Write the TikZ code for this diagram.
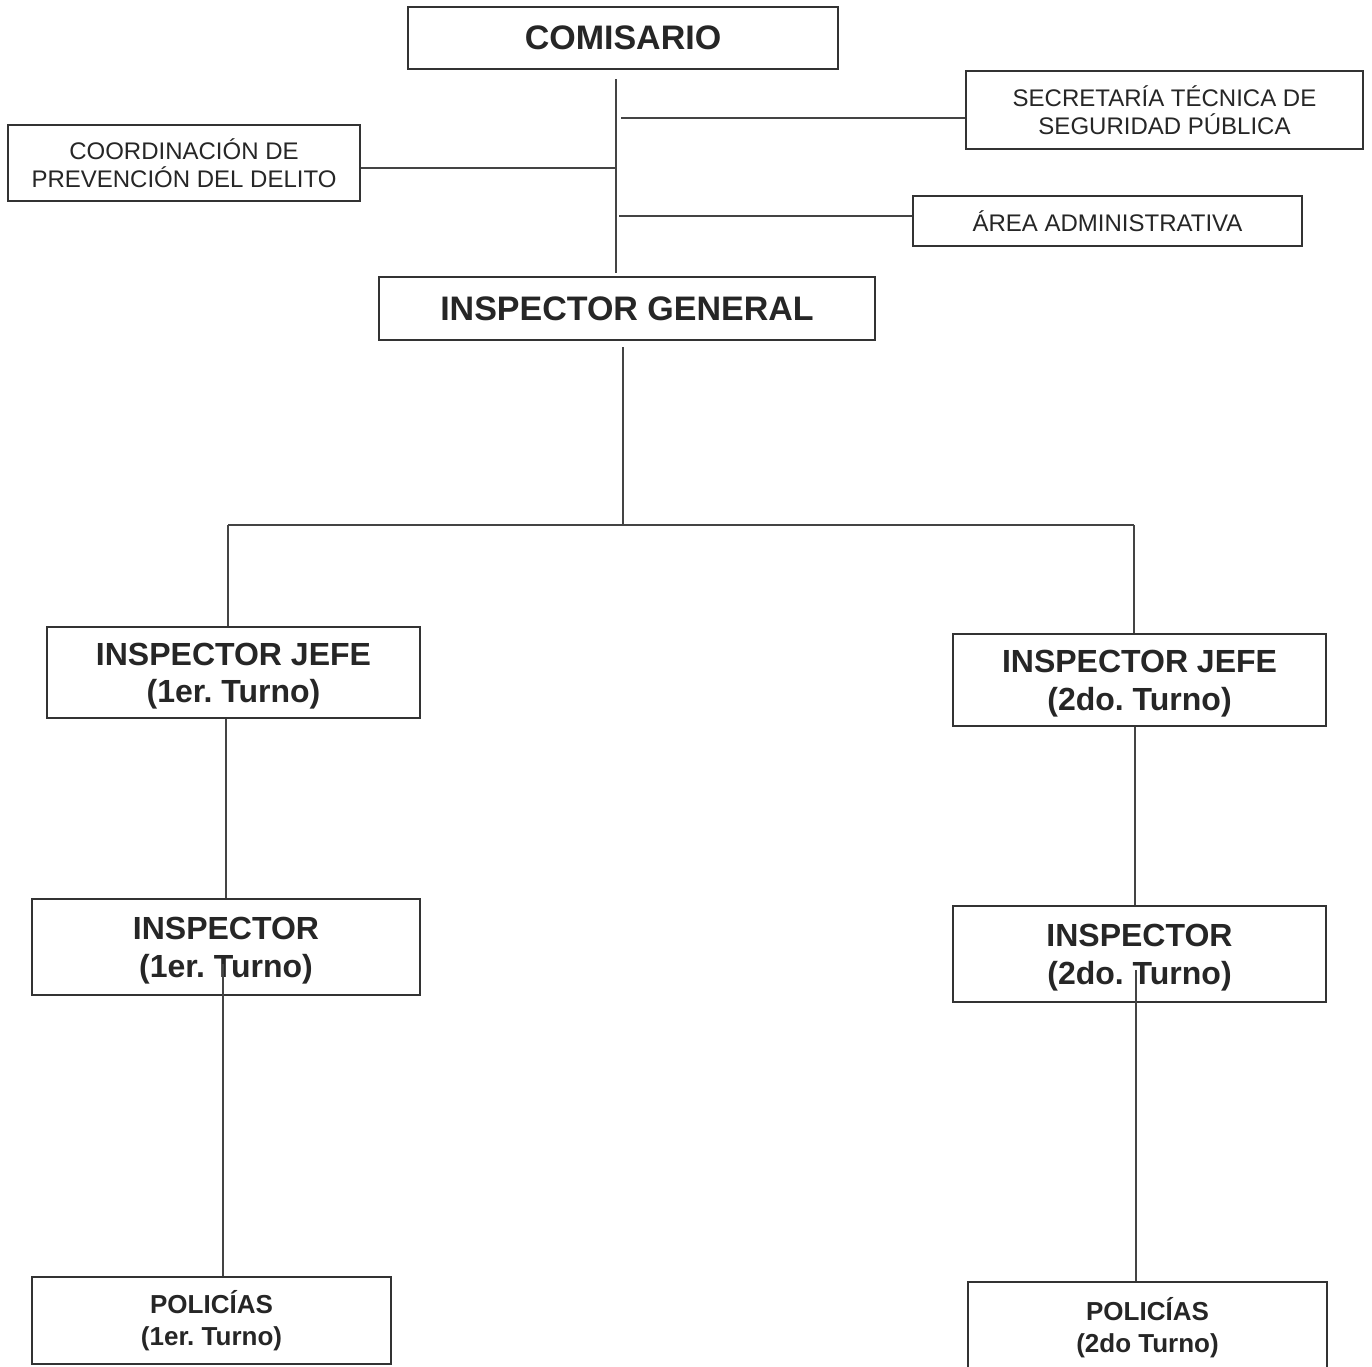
\documentclass[tikz,border=0pt]{standalone}
\usepackage{fontspec}
\setmainfont{Liberation Sans}
\usetikzlibrary{calc}
\frenchspacing
\definecolor{ink}{HTML}{262626}
\definecolor{rule}{HTML}{333333}
\definecolor{wire}{HTML}{444444}
\newcommand{\topstrut}{\rule{0pt}{30pt}}
\tikzset{
  box/.style={draw=rule, line width=2pt, rectangle, inner sep=0pt, align=center, text=ink},
  bigtxt/.style={box, font=\fontsize{34}{40}\selectfont\bfseries},
  midtxt/.style={box, font=\fontsize{32}{37.5}\selectfont\bfseries},
  smalltxt/.style={box, font=\fontsize{24}{28}\selectfont},
  poltxt/.style={box, font=\fontsize{26}{32}\selectfont\bfseries},
  wireline/.style={draw=wire, line width=1.3pt}
}
\begin{document}
\begin{tikzpicture}[x=1pt,y=-1pt]
\useasboundingbox (0,0) rectangle (1372,1366);
\fill[white] (0,0) rectangle (1372,1366);

% boxes
\node[bigtxt, minimum width=430pt, minimum height=62pt] (com) at (623,38) {COMISARIO};
\node[smalltxt, minimum width=397pt, minimum height=78pt] (sec) at (1164.5,110) {SECRETARÍA TÉCNICA DE\\SEGURIDAD PÚBLICA};
\node[smalltxt, minimum width=352pt, minimum height=76pt] (coord) at (184,163) {COORDINACIÓN DE\\PREVENCIÓN DEL DELITO};
\node[smalltxt, minimum width=389pt, minimum height=50pt] (area) at (1107.5,221) {ÁREA ADMINISTRATIVA};
\node[bigtxt, minimum width=496pt, minimum height=63pt] (ig) at (627,308.5) {INSPECTOR GENERAL};
\node[midtxt, minimum width=373pt, minimum height=91pt] (ij1) at (233.5,672.5) {\topstrut INSPECTOR JEFE\\(1er. Turno)};
\node[midtxt, minimum width=373pt, minimum height=92pt] (ij2) at (1139.5,680) {\topstrut INSPECTOR JEFE\\(2do. Turno)};
\node[midtxt, minimum width=388pt, minimum height=96pt] (in1) at (226,947) {\topstrut INSPECTOR\\(1er. Turno)};
\node[midtxt, minimum width=373pt, minimum height=96pt] (in2) at (1139.5,954) {\topstrut INSPECTOR\\(2do. Turno)};
\node[poltxt, minimum width=359pt, minimum height=87pt] (po1) at (211.5,1320.5) {POLICÍAS\\(1er. Turno)};
\node[poltxt, minimum width=359pt, minimum height=91pt] (po2) at (1147.5,1327.5) {POLICÍAS\\(2do Turno)};

% junction coordinates
\coordinate (ttop) at (616,79);
\coordinate (tbot) at (616,273);
\coordinate (jsec) at (621,118);
\coordinate (jcoord) at (616,168);
\coordinate (jarea) at (619,216);
\coordinate (igtop) at (623,347);
\coordinate (igbot) at (623,525);
\coordinate (bl) at (228,525);
\coordinate (br) at (1134,525);
\coordinate (in1s) at (223,964);
\coordinate (in2s) at (1136,970);

% connectors
\draw[wireline] (ttop) -- (tbot);
\draw[wireline] (jsec) -- (jsec -| sec.west);
\draw[wireline] (jcoord) -- (jcoord -| coord.east);
\draw[wireline] (jarea) -- (jarea -| area.west);
\draw[wireline] (igtop) -- (igbot);
\draw[wireline] (bl) -- (br);
\draw[wireline] (bl) -- (bl |- ij1.north);
\draw[wireline] (br) -- (br |- ij2.north);
\draw[wireline] (ij1.south -| 226,0) -- (in1.north -| 226,0);
\draw[wireline] (ij2.south -| 1135,0) -- (in2.north -| 1135,0);
\draw[wireline] (in1s) -- (in1s |- po1.north);
\draw[wireline] (in2s) -- (in2s |- po2.north);
\end{tikzpicture}
\end{document}
